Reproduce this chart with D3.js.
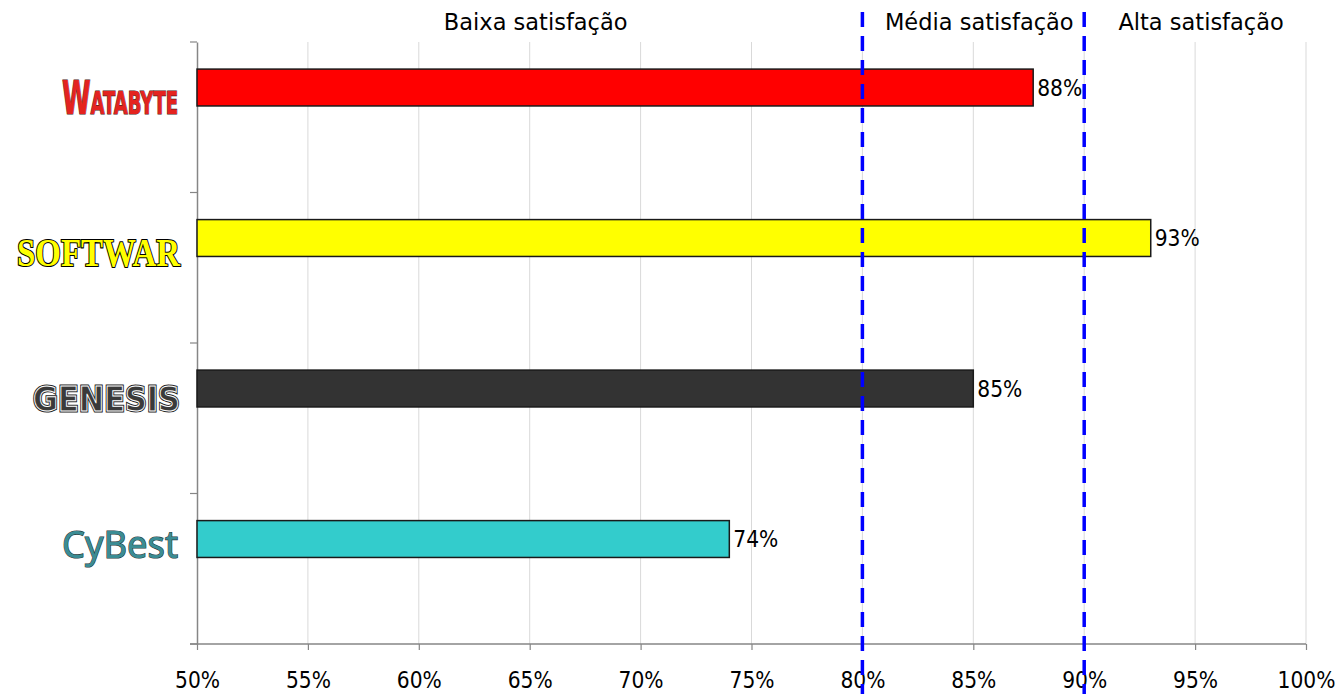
<!DOCTYPE html>
<html><head><meta charset="utf-8">
<script src="https://cdn.jsdelivr.net/npm/d3@7"></script>
<style>html,body{margin:0;padding:0;background:#fff;}svg{display:block;}</style>
</head><body>
<script>
const categories = ["Watabyte", "Softwar", "Genesis", "CyBest"];
const values = [0.877, 0.93, 0.85, 0.74];
const valueLabels = ["88%", "93%", "85%", "74%"];
const barColors = ["#ff0000", "#ffff00", "#333333", "#33cccc"];
const xTicks = [0.5, 0.55, 0.6, 0.65, 0.7, 0.75, 0.8, 0.85, 0.9, 0.95, 1.0];
const zoneNames = ["Baixa satisfação", "Média satisfação", "Alta satisfação"];
const zoneBounds = [0.5, 0.8, 0.9, 1.0];
const thresholds = [0.8, 0.9];

const W = 1343, H = 694;
const svg = d3.select("body").append("svg").attr("width", W).attr("height", H);
const x = d3.scaleLinear().domain([0.5, 1]).range([197, 1306]);
const y = d3.scaleBand().domain(categories).range([42, 644]).paddingInner(0).paddingOuter(0);
const font = "'DejaVu Sans Condensed','DejaVu Sans',sans-serif";
const fontWide = "'DejaVu Sans',sans-serif";

// grid
svg.append("g").selectAll("line").data(xTicks.slice(1)).join("line")
  .attr("x1", d => x(d)).attr("x2", d => x(d)).attr("y1", 42).attr("y2", 644)
  .attr("stroke", "#d9d9d9").attr("stroke-width", 1);

// bottom axis
const xAxis = d3.axisBottom(x).tickValues(xTicks).tickSize(6).tickSizeOuter(0)
  .tickFormat(d3.format(".0%"));
const gx = svg.append("g").attr("transform", "translate(0,644)").call(xAxis);
gx.select(".domain").attr("stroke", "#868686").attr("stroke-width", 1.5).attr("d", "M190,0H1306");
gx.selectAll(".tick line").attr("stroke", "#868686").attr("stroke-width", 1.2);
gx.selectAll(".tick text").attr("font-family", font).attr("font-size", 22.5).attr("fill", "#000")
  .attr("y", 28).attr("dy", "0.71em");

// left axis
const yAxis = d3.axisLeft(y).tickValues([]).tickSizeOuter(0);
const gy = svg.append("g").attr("transform", "translate(197,0)").call(yAxis);
gy.select(".domain").attr("stroke", "#868686").attr("stroke-width", 1.5);
const bounds = categories.map(c => y(c)).concat([y.range()[1]]);
gy.selectAll("line.bt").data(bounds).join("line").attr("class", "bt")
  .attr("x1", -7).attr("x2", 0).attr("y1", d => d).attr("y2", d => d)
  .attr("stroke", "#868686").attr("stroke-width", 1.2);

// bars
const bw = y.bandwidth();
svg.append("g").selectAll("rect").data(categories).join("rect")
  .attr("x", x(0.5)).attr("y", d => y(d) + bw * 0.18)
  .attr("width", (d, i) => x(values[i]) - x(0.5)).attr("height", bw * 0.245)
  .attr("fill", (d, i) => barColors[i]).attr("stroke", "#1a1a1a").attr("stroke-width", 1.5);

// value labels
svg.append("g").selectAll("text").data(categories).join("text")
  .attr("x", (d, i) => x(values[i]) + 4).attr("y", d => y(d) + bw * 0.18 + bw * 0.1225)
  .attr("dy", "0.36em").attr("font-family", font).attr("font-size", 22.5).attr("fill", "#000")
  .text((d, i) => valueLabels[i]);

// threshold dashed lines
svg.append("g").selectAll("line").data(thresholds).join("line")
  .attr("x1", d => x(d)).attr("x2", d => x(d)).attr("y1", 12).attr("y2", 694)
  .attr("stroke", "#0000ff").attr("stroke-width", 3.5).attr("stroke-dasharray", "15,9");

// zone labels
svg.append("g").selectAll("text").data(zoneNames).join("text")
  .attr("x", (d, i) => (x(zoneBounds[i]) + x(zoneBounds[i + 1])) / 2 + 6)
  .attr("y", 30).attr("text-anchor", "middle")
  .attr("font-family", fontWide).attr("font-size", 22.5).attr("fill", "#000").text(d => d);

// category logos (styled text)
const lg = svg.append("g");
const cy = c => y(c) + bw * 0.18 + bw * 0.1225;
// Watabyte
lg.append("text").attr("x", 178).attr("y", cy("Watabyte") + 26).attr("text-anchor", "end")
  .attr("font-family", "'Liberation Sans Narrow','DejaVu Sans Condensed',sans-serif")
  .attr("font-weight", "bold").attr("font-size", 46).attr("font-variant", "small-caps")
  .attr("fill", "#e4231f").attr("stroke", "#4a1a1a").attr("stroke-width", 1.2).attr("paint-order", "stroke")
  .attr("textLength", 116).attr("lengthAdjust", "spacingAndGlyphs").text("Watabyte");
// Softwar
lg.append("text").attr("x", 180).attr("y", cy("Softwar") + 28).attr("text-anchor", "end")
  .attr("font-family", "'Liberation Serif',serif").attr("font-weight", "bold").attr("font-size", 40)
  .attr("fill", "#ffff00").attr("stroke", "#000").attr("stroke-width", 2.2).attr("paint-order", "stroke")
  .attr("textLength", 163).attr("lengthAdjust", "spacingAndGlyphs").text("SOFTWAR");
// Genesis
lg.append("text").attr("x", 180).attr("y", cy("Genesis") + 22).attr("text-anchor", "end")
  .attr("font-family", "'DejaVu Sans',sans-serif").attr("font-weight", "bold").attr("font-size", 34)
  .attr("fill", "#222").attr("stroke", "#222").attr("stroke-width", 3)
  .attr("textLength", 147).attr("lengthAdjust", "spacingAndGlyphs").text("GENESIS");
lg.append("text").attr("x", 180).attr("y", cy("Genesis") + 22).attr("text-anchor", "end")
  .attr("font-family", "'DejaVu Sans',sans-serif").attr("font-weight", "bold").attr("font-size", 34)
  .attr("fill", "#3a3a3a").attr("stroke", "#fff").attr("stroke-width", 1)
  .attr("textLength", 147).attr("lengthAdjust", "spacingAndGlyphs").text("GENESIS");
// CyBest
lg.append("text").attr("x", 178).attr("y", cy("CyBest") + 19).attr("text-anchor", "end")
  .attr("font-family", "'Noto Sans','Open Sans',sans-serif").attr("font-size", 38)
  .attr("fill", "#3a8c94").attr("stroke", "#2a3a3c").attr("stroke-width", 1.2).attr("paint-order", "stroke")
  .attr("textLength", 116).attr("lengthAdjust", "spacingAndGlyphs").text("CyBest");
</script>
</body></html>
